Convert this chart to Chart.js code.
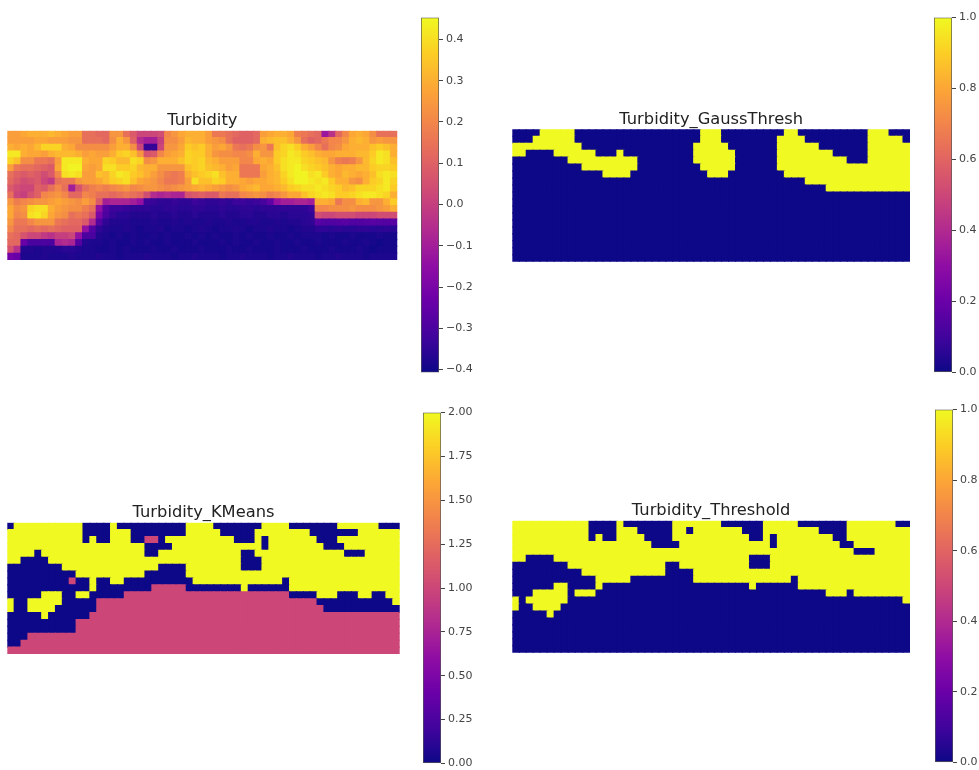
<!DOCTYPE html>
<html>
<head>
<meta charset="utf-8">
<script src="https://cdn.jsdelivr.net/npm/chart.js@4"></script>
<style>
    html, body { margin: 0; background: #fff; }
    #fig { position: relative; width: 979px; height: 770px; overflow: hidden; }
    #fig div { position: absolute; }
    canvas { filter: blur(0.6px); }
</style>
</head>
<body>
<div id="fig"></div>
<script>
const nCols = 57;
const nRows = 19;

// turbidity, in hundredths
const turbidity = [
    [26,26,28,30,30,30,32,30,28,26, 26,14,14,12,12,24,24,14,8,2, 2,2,4,20,24,28,30,30,30,26, 16,16,14,12,10,10,12,26,28,30, 30,28,18,16,14,12,-12,-4,12,20, 28,30,28,22,14,14,14],
    [26,26,26,26,28,28,26,26,26,24, 24,14,14,14,12,22,30,24,10,-6, -10,-10,0,22,22,26,32,30,30,26, 24,22,14,10,10,10,12,30,32,34, 34,30,24,14,10,12,16,20,20,24, 30,32,30,24,26,24,24],
    [30,28,30,28,32,38,38,38,30,28, 22,22,22,22,22,26,30,30,22,2, -34,-34,2,24,24,28,36,34,36,30, 26,28,24,16,14,16,22,24,16,34, 38,40,36,30,26,20,14,20,22,28, 30,30,30,34,36,34,30],
    [42,42,30,28,28,26,30,32,32,32, 30,26,28,26,26,30,36,38,34,24, 6,8,20,26,28,30,38,36,36,30, 24,22,22,20,20,22,30,24,24,36, 38,42,40,36,34,30,28,28,30,30, 30,32,32,36,42,40,30],
    [38,34,22,22,16,16,14,26,42,42, 42,30,28,28,38,36,32,32,40,38, 22,24,30,30,30,34,38,36,38,32, 30,26,26,26,20,20,28,30,28,36, 40,42,42,38,36,34,32,24,18,16, 18,24,32,38,42,40,34],
    [26,16,14,14,12,10,8,28,42,44, 44,28,26,28,40,40,36,36,38,32, 30,30,24,24,24,24,34,36,38,34, 32,30,26,28,16,16,16,28,30,34, 40,42,44,40,38,36,34,30,28,30, 30,32,32,36,38,38,36],
    [14,10,8,10,8,4,8,20,40,42, 40,26,26,34,32,38,42,40,36,34, 30,26,22,18,16,18,30,34,36,38, 40,34,30,30,16,16,16,26,30,32, 38,42,44,44,40,42,36,30,28,32, 30,28,30,34,40,42,40],
    [12,8,4,6,8,2,-2,14,16,16, 24,26,26,28,32,36,38,40,34,28, 26,24,20,16,16,18,26,40,34,34, 38,36,30,30,28,26,28,28,30,32, 36,40,44,44,42,40,42,36,30,30, 24,22,30,36,38,42,38],
    [8,4,2,2,10,8,14,20,14,-10, 6,14,18,20,18,20,22,24,20,22, 24,24,22,20,22,24,26,28,30,28, 26,24,22,24,28,30,32,28,28,30, 32,36,38,40,40,42,40,38,36,32, 34,38,38,38,40,42,36],
    [14,2,0,6,10,20,22,24,20,12, 12,20,18,14,14,12,14,16,14,12, 4,-6,-8,-6,-8,-8,6,8,10,8, 8,16,14,14,20,22,24,22,18,20, 24,28,28,34,38,40,42,40,36,36, 38,40,42,42,40,38,30],
    [24,18,20,22,24,24,26,28,26,24, 22,26,22,8,-10,-8,-8,-8,-10,-14, -33,-34,-35,-35,-34,-35,-35,-33,-34,-35, -35,-34,-35,-33,-33,-34,-33,-31,-26,-14, -10,-10,-8,-8,-10,30,30,28,16,22, 22,30,32,24,24,30,36],
    [28,22,24,38,40,40,30,26,24,22, 22,18,14,-14,-28,-33,-33,-34,-35,-35, -35,-36,-36,-35,-35,-36,-36,-35,-35,-36, -36,-35,-36,-36,-35,-35,-36,-35,-35,-35, -35,-35,-35,-35,-33,20,20,22,22,22, 24,22,22,22,24,26,30],
    [28,20,22,40,42,38,28,24,22,14, 16,14,8,-20,-30,-34,-36,-36,-37,-37, -37,-36,-37,-37,-36,-37,-37,-36,-37,-37, -37,-36,-37,-37,-36,-36,-37,-37,-36,-36, -37,-36,-36,-36,-35,4,2,2,4,4, 4,2,2,2,4,4,4],
    [24,16,16,20,24,24,24,16,14,12, 12,8,-6,-28,-35,-37,-37,-37,-38,-38, -38,-37,-38,-38,-37,-38,-37,-38,-38,-37, -38,-38,-37,-38,-38,-37,-37,-38,-38,-37, -38,-37,-37,-36,-35,-27,-29,-29,-28,-27, -29,-29,-28,-27,-28,-28,-27],
    [20,14,14,12,14,12,14,12,10,10, 10,-14,-28,-35,-37,-38,-38,-37,-38,-39, -38,-38,-37,-39,-38,-38,-39,-38,-37,-38, -39,-38,-38,-37,-38,-39,-38,-38,-37,-38, -38,-39,-38,-37,-37,-35,-35,-36,-35,-36, -36,-35,-35,-36,-36,-35,-36],
    [14,12,6,2,2,-2,-4,0,0,2, -14,-30,-30,-37,-38,-39,-38,-39,-38,-39, -39,-38,-39,-38,-39,-39,-38,-39,-38,-39, -38,-39,-39,-38,-39,-38,-39,-39,-38,-39, -39,-38,-39,-38,-38,-38,-39,-38,-39,-39, -38,-39,-39,-39,-38,-39,-39],
    [12,12,-24,-30,-30,-30,-30,-8,-6,-8, -28,-37,-38,-38,-39,-38,-39,-39,-38,-39, -38,-39,-39,-38,-39,-39,-39,-38,-39,-39, -39,-38,-39,-38,-39,-39,-38,-39,-39,-38, -39,-39,-38,-39,-39,-38,-39,-39,-39,-38, -39,-39,-38,-39,-40,-39,-39],
    [6,-4,-37,-37,-38,-37,-37,-37,-36,-36, -37,-38,-38,-39,-39,-38,-39,-38,-39,-39, -39,-38,-39,-39,-38,-39,-39,-39,-38,-39, -39,-39,-38,-39,-39,-38,-39,-39,-39,-38, -39,-39,-39,-38,-39,-39,-39,-38,-39,-39, -39,-38,-39,-40,-39,-39,-39],
    [-22,-24,-38,-38,-38,-37,-38,-38,-38,-37, -38,-38,-38,-37,-38,-38,-39,-38,-38,-38, -37,-38,-38,-38,-39,-38,-38,-37,-38,-38, -38,-39,-38,-38,-37,-38,-38,-38,-39,-38, -38,-37,-38,-38,-38,-39,-38,-38,-37,-38, -38,-38,-39,-38,-38,-38,-38]
];

// the other three panels are flat regions, so keep them as [from, to] column spans per row
const gaussYellow = [
    [[4,8],[27,29],[39,40],[51,53]],
    [[3,8],[27,29],[38,41],[51,55]],
    [[0,9],[26,30],[38,43],[51,56]],
    [[0,1],[6,11],[15,15],[26,31],[38,45],[51,56]],
    [[8,17],[26,31],[38,47],[51,56]],
    [[10,17],[27,31],[38,56]],
    [[13,16],[28,30],[39,56]],
    [[42,56]],
    [[45,56]]
];

const kmeansBlue = [
    [[0,0],[11,14],[16,25],[30,36],[41,47],[54,56]],
    [[11,14],[18,25],[31,35],[44,50]],
    [[11,11],[13,14],[18,22],[33,35],[37,37],[45,47]],
    [[20,23],[37,37],[46,48]],
    [[4,4],[20,21],[34,35],[49,51]],
    [[2,5],[34,36]],
    [[0,7],[22,25],[34,36]],
    [[0,9],[20,25]],
    [[0,11],[13,14],[17,26],[40,40]],
    [[0,11],[13,20],[26,33],[35,40]],
    [[0,4],[8,9],[12,16],[41,44],[48,50],[53,54]],
    [[1,2],[8,12],[45,55]],
    [[1,2],[7,12],[46,56]],
    [[0,4],[6,11]],
    [[0,9]],
    [[0,9]],
    [[0,2]],
    [[0,1]]
];

const kmeansPink = [
    [], [],
    [[20,21]],
    [], [], [], [], [],
    [[9,9]],
    [[21,25]],
    [[17,40]],
    [[13,44]],
    [[13,45]],
    [[12,56]],
    [[10,56]],
    [[10,56]],
    [[3,56]],
    [[2,56]],
    [[0,56]]
];

const thresholdBlue = [
    [[11,14],[16,22],[30,35],[41,47],[55,56]],
    [[11,14],[18,22],[25,25],[33,35],[44,47]],
    [[11,11],[13,14],[19,22],[34,35],[37,37],[46,47]],
    [[20,23],[37,37],[47,48]],
    [[49,51]],
    [[2,5],[34,36]],
    [[0,7],[22,23],[34,36]],
    [[0,9],[22,25]],
    [[0,11],[17,25],[40,40]],
    [[0,5],[8,11],[13,33],[35,40]],
    [[0,2],[8,8],[12,44],[48,48]],
    [[1,1],[8,55]],
    [[1,2],[7,56]],
    [[0,4],[6,56]],
    [[0,56]],
    [[0,56]],
    [[0,56]],
    [[0,56]],
    [[0,56]]
];

const turbidityTicks = [-0.4, -0.3, -0.2, -0.1, 0, 0.1, 0.2, 0.3, 0.4];
const unitTicks = [0, 0.2, 0.4, 0.6, 0.8, 1];
const kmeansTicks = [0, 0.25, 0.5, 0.75, 1, 1.25, 1.5, 1.75, 2];

const plasma = ['#0d0887', '#41049d', '#6a00a8', '#8f0da4', '#b12a90', '#cc4778',
                '#e16462', '#f2844b', '#fca636', '#fcce25', '#f0f921'];

const fontName = '"DejaVu Sans", sans-serif';

function hexToRgb(hex) {
    return [1, 3, 5].map(i => parseInt(hex.substr(i, 2), 16));
}

function plasmaColor(t) {
    t = Math.min(1, Math.max(0, t)) * (plasma.length - 1);
    const i = Math.min(Math.floor(t), plasma.length - 2);
    const a = hexToRgb(plasma[i]);
    const b = hexToRgb(plasma[i + 1]);
    const f = t - i;
    return 'rgb(' + a.map((v, k) => Math.round(v + (b[k] - v) * f)).join(',') + ')';
}

function paintSpans(grid, spans, value) {
    spans.forEach((row, r) => {
        row.forEach(s => {
            for (let c = s[0]; c <= s[1]; c++) grid[r][c] = value;
        });
    });
}

function blankGrid(value) {
    const grid = [];
    for (let r = 0; r < nRows; r++) grid.push(new Array(nCols).fill(value));
    return grid;
}

const gaussGrid = blankGrid(0);
paintSpans(gaussGrid, gaussYellow, 1);

const kmeansGrid = blankGrid(2);
paintSpans(kmeansGrid, kmeansBlue, 0);
paintSpans(kmeansGrid, kmeansPink, 1);

const thresholdGrid = blankGrid(1);
paintSpans(thresholdGrid, thresholdBlue, 0);

const turbidityGrid = turbidity.map(row => row.map(v => v / 100));

function addCanvas(left, top, width, height) {
    const box = document.createElement('div');
    box.style.cssText = `left:${left}px;top:${top}px;width:${width}px;height:${height}px`;
    const canvas = document.createElement('canvas');
    box.appendChild(canvas);
    document.getElementById('fig').appendChild(box);
    return canvas;
}

// left/right/top/bottom are the pixel edges of the image area
function heatmap(title, grid, vmin, vmax, left, right, top, bottom) {
    const titleHeight = 24;
    const boxTop = Math.floor(top - titleHeight);
    const boxLeft = Math.floor(left);
    const boxWidth = Math.ceil(right) - boxLeft;
    const boxHeight = Math.ceil(bottom) - boxTop;
    const canvas = addCanvas(boxLeft, boxTop, boxWidth, boxHeight);

    const cells = [];
    grid.forEach((row, r) => row.forEach((v, c) => cells.push({ x: c, y: r, v: v })));

    new Chart(canvas, {
        type: 'scatter',
        data: {
            datasets: [{
                data: cells,
                pointStyle: 'rect',
                borderWidth: 0,
                pointBorderWidth: 0,
                // a bit over one cell wide, otherwise the antialiased edges leave light seams
                pointRadius: ctx => (ctx.chart.chartArea ? ctx.chart.chartArea.width / nCols + 1.1 : 8) / Math.SQRT2,
                pointBackgroundColor: ctx => plasmaColor((ctx.raw.v - vmin) / (vmax - vmin))
            }]
        },
        options: {
            responsive: true,
            maintainAspectRatio: false,
            animation: false,
            events: [],
            layout: {
                autoPadding: false,
                padding: {
                    left: left - boxLeft,
                    right: boxLeft + boxWidth - right,
                    top: top - boxTop - titleHeight,
                    bottom: boxTop + boxHeight - bottom
                }
            },
            plugins: {
                legend: { display: false },
                tooltip: { enabled: false },
                title: {
                    display: true,
                    text: title,
                    color: '#222',
                    font: { family: fontName, size: 16.3, weight: 'normal', lineHeight: 1.227 },
                    padding: { top: 4, bottom: 0 }
                }
            },
            scales: {
                x: { type: 'linear', min: -0.5, max: nCols - 0.5, display: false },
                y: { type: 'linear', min: -0.5, max: nRows - 0.5, reverse: true, display: false }
            }
        }
    });
}

function colorbar(vmin, vmax, ticks, decimals, left, top, bottom) {
    const barWidth = 18;
    const labelRoom = 42;
    const pad = 9;
    const canvas = addCanvas(left, top - pad, barWidth + labelRoom, bottom - top + pad * 2);

    new Chart(canvas, {
        type: 'bar',
        data: {
            labels: ['bar'],
            datasets: [{
                data: [[vmin, vmax]],
                barPercentage: 1,
                categoryPercentage: 1,
                borderWidth: 1,
                borderColor: '#555',
                borderSkipped: false,
                backgroundColor: ctx => {
                    const area = ctx.chart.chartArea;
                    if (!area) return plasma[5];
                    const g = ctx.chart.ctx.createLinearGradient(0, area.bottom, 0, area.top);
                    plasma.forEach((c, i) => g.addColorStop(i / (plasma.length - 1), c));
                    return g;
                }
            }]
        },
        options: {
            responsive: true,
            maintainAspectRatio: false,
            animation: false,
            events: [],
            layout: { padding: { top: pad, bottom: pad } },
            plugins: { legend: { display: false }, tooltip: { enabled: false } },
            scales: {
                x: { display: false },
                y: {
                    position: 'right',
                    min: vmin,
                    max: vmax,
                    afterBuildTicks: scale => { scale.ticks = ticks.map(v => ({ value: v })); },
                    afterFit: scale => { scale.width = labelRoom; },
                    border: { display: false },
                    grid: { drawOnChartArea: false, drawTicks: true, tickLength: 4, color: '#444' },
                    ticks: {
                        color: '#444',
                        padding: 3,
                        autoSkip: false,
                        font: { family: fontName, size: 11 },
                        callback: v => v.toFixed(decimals).replace('-', '\u2212')
                    }
                }
            }
        }
    });
}

heatmap('Turbidity', turbidityGrid, -0.407, 0.453, 7.3, 397.3, 130.7, 260);
heatmap('Turbidity_GaussThresh', gaussGrid, 0, 1, 512.3, 910, 129.3, 261.7);
heatmap('Turbidity_KMeans', kmeansGrid, 0, 2, 7.3, 399.7, 522.7, 654);
heatmap('Turbidity_Threshold', thresholdGrid, 0, 1, 512.3, 910, 520.7, 652.7);

colorbar(-0.407, 0.453, turbidityTicks, 1, 421, 17, 373);
colorbar(0, 1, unitTicks, 1, 934, 17, 373);
colorbar(0, 2, kmeansTicks, 2, 423, 412, 764);
colorbar(0, 1, unitTicks, 1, 935, 409, 763);
</script>
</body>
</html>
